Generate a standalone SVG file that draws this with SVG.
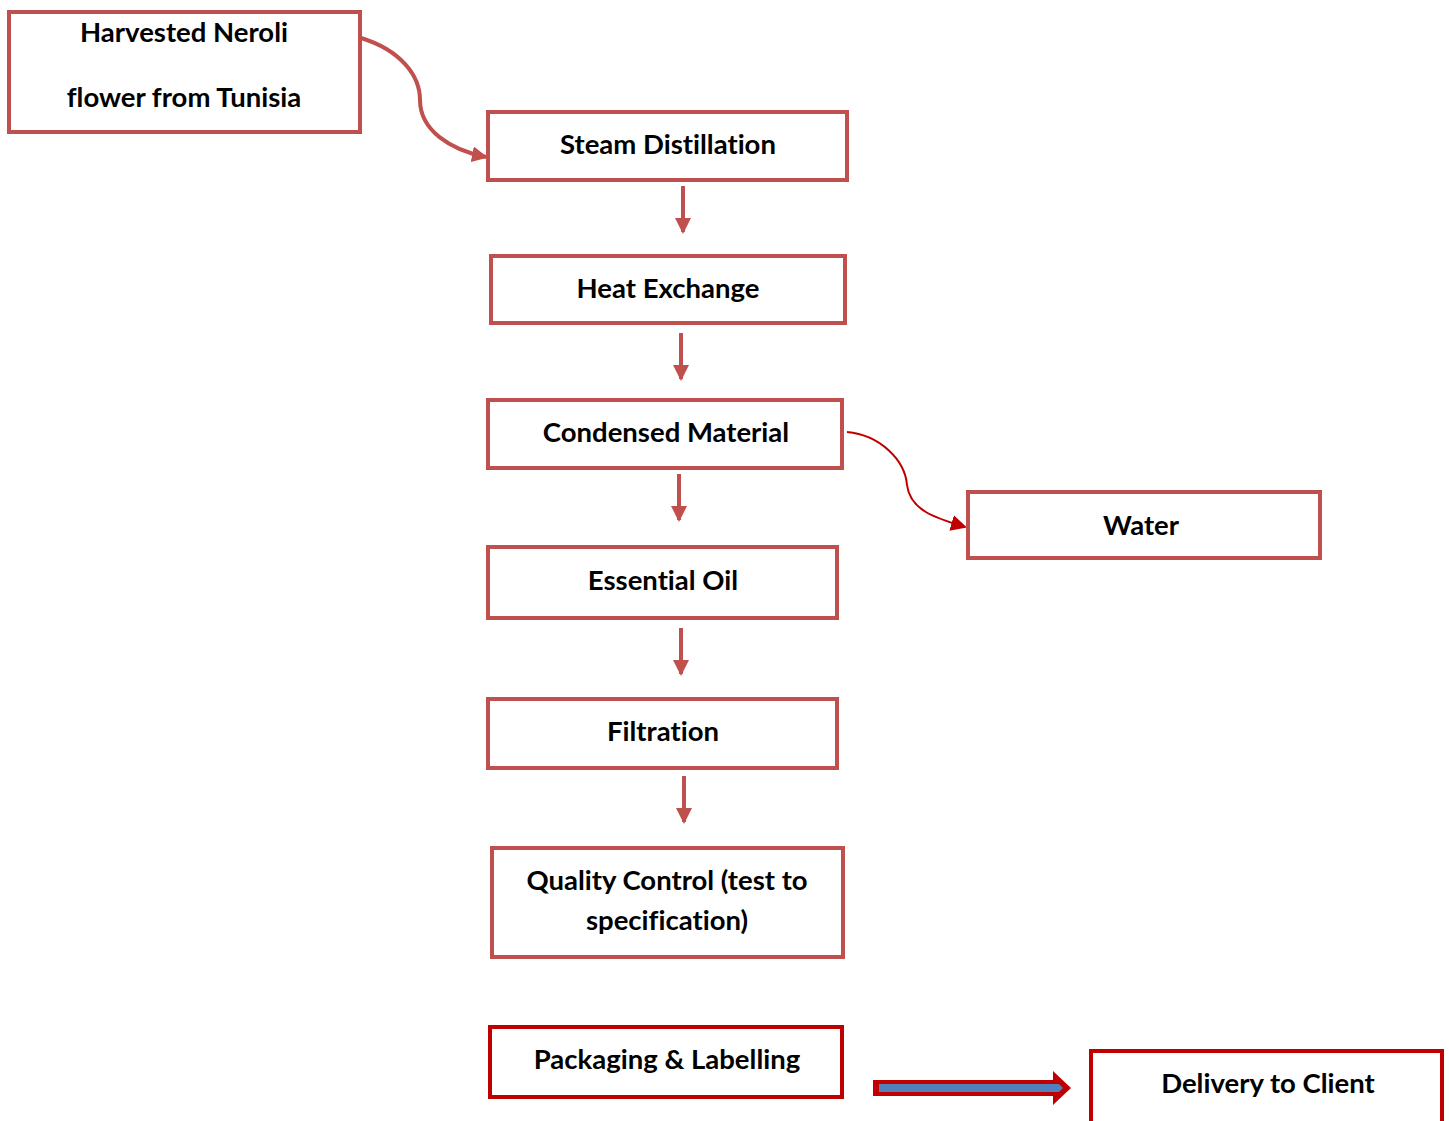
<svg xmlns="http://www.w3.org/2000/svg" width="1449" height="1121" viewBox="0 0 1449 1121">
<style>
.box{fill:#fff;stroke:#C0504D;stroke-width:4}
.box2{fill:#fff;stroke:#C00000;stroke-width:4}
.t{font-family:"Lato","Liberation Sans",sans-serif;font-weight:bold;font-size:27.5px;fill:#000;text-anchor:middle;font-variant-ligatures:none}
.arr{stroke:#C0504D;stroke-width:4;fill:none}
</style>
<defs>
<marker id="ah" markerUnits="userSpaceOnUse" markerWidth="16" markerHeight="16" refX="14" refY="8" orient="auto">
<path d="M0,0 L16,8 L0,16 Z" fill="#C0504D"/>
</marker>
<marker id="ah2" markerUnits="userSpaceOnUse" markerWidth="16" markerHeight="16" refX="14" refY="8" orient="auto">
<path d="M0,0 L16,8 L0,16 Z" fill="#C00000"/>
</marker>
</defs>
<rect width="1449" height="1121" fill="#fff"/>
<g id="connectors">
<path class="arr" d="M361,38 C400,50 420,75 420,100 C420,130 450,150 486,157" marker-end="url(#ah)"/>
<line class="arr" x1="683" y1="186" x2="683" y2="232" marker-end="url(#ah)"/>
<line class="arr" x1="681" y1="333" x2="681" y2="379" marker-end="url(#ah)"/>
<line class="arr" x1="679" y1="474" x2="679" y2="520" marker-end="url(#ah)"/>
<line class="arr" x1="681" y1="628" x2="681" y2="674" marker-end="url(#ah)"/>
<line class="arr" x1="684" y1="776" x2="684" y2="822" marker-end="url(#ah)"/>
<path d="M847,432 C880,435 905,460 907,485 C910,510 935,518 965,527" stroke="#C00000" stroke-width="2" fill="none" marker-end="url(#ah2)"/>
<polygon points="873,1080 1053,1080 1053,1071 1071,1088 1053,1105 1053,1096 873,1096" fill="#C00000"/>
<polygon points="879,1084 1059,1084 1063,1088 1059,1092 879,1092" fill="#4F81BD"/>
</g>
<g id="n1"><rect class="box" x="9" y="12" width="351" height="120"/><text class="t" x="184" y="42">Harvested Neroli</text><text class="t" x="184" y="107">flower from Tunisia</text></g>
<g id="n2"><rect class="box" x="488" y="112" width="359" height="68"/><text class="t" x="668" y="154">Steam Distillation</text></g>
<g id="n3"><rect class="box" x="491" y="256" width="354" height="67"/><text class="t" x="668" y="298">Heat Exchange</text></g>
<g id="n4"><rect class="box" x="488" y="400" width="354" height="68"/><text class="t" x="666" y="442">Condensed Material</text></g>
<g id="n5"><rect class="box" x="968" y="492" width="352" height="66"/><text class="t" x="1141" y="535">Water</text></g>
<g id="n6"><rect class="box" x="488" y="547" width="349" height="71"/><text class="t" x="663" y="590">Essential Oil</text></g>
<g id="n7"><rect class="box" x="488" y="699" width="349" height="69"/><text class="t" x="663" y="741">Filtration</text></g>
<g id="n8"><rect class="box" x="492" y="848" width="351" height="109"/><text class="t" x="667" y="890">Quality Control (test to</text><text class="t" x="667" y="930">specification)</text></g>
<g id="n9"><rect class="box2" x="490" y="1027" width="352" height="70"/><text class="t" x="667" y="1069">Packaging &amp; Labelling</text></g>
<g id="n10"><rect class="box2" x="1091" y="1051" width="351" height="80"/><text class="t" x="1268" y="1093">Delivery to Client</text></g>
</svg>
